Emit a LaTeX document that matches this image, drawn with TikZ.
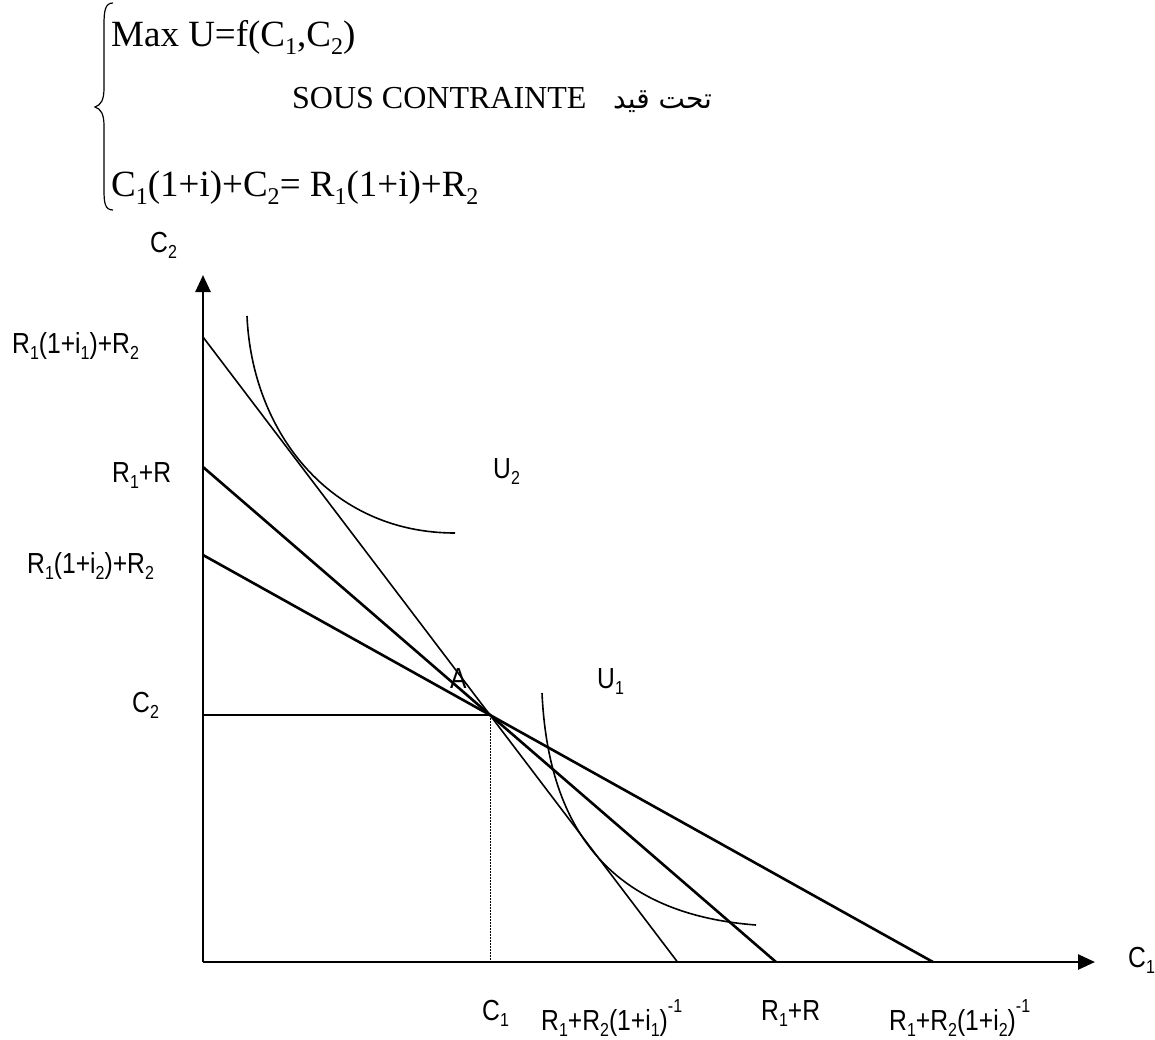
\documentclass[tikz,border=0pt]{standalone}
\usepackage{fontspec}
\usepackage{graphicx}
\setmainfont{Liberation Serif}
\newfontfamily\lab[FakeStretch=0.85]{Liberation Sans}
\newfontfamily\arabicfont[Script=Arabic]{DejaVu Sans}
\TeXXeTstate=1
\usetikzlibrary{arrows.meta}
\newcommand\lo[1]{\raisebox{-0.22em}{\scalebox{0.65}{#1}}}
\newcommand\hi[1]{\raisebox{0.6em}{\scalebox{0.65}{#1}}}
\begin{document}
\begin{tikzpicture}[x=1pt,y=-1pt,
  axisline/.style={line width=2.6pt,-{Triangle[length=17pt,width=15pt]}},
  boldline/.style={line width=2.6pt},
  thinline/.style={line width=1.6pt},
  midline/.style={line width=1.8pt},
  curveline/.style={line width=1.6pt},
  dotline/.style={line width=1pt,dash pattern=on 1.5pt off 1.5pt},
  lbl/.style={font=\lab\fontsize{29}{34}\selectfont,inner sep=0pt,anchor=base west},
  eq/.style={font=\fontsize{37}{41}\selectfont,inner sep=0pt,anchor=base west}]
\useasboundingbox (0,0) rectangle (1155,1039);
% system of equations
\draw[line width=1.2pt] (113,3) .. controls (105,3) and (104,11) .. (104,25) -- (104,88)
  .. controls (104,100) and (101,105) .. (95,107) .. controls (101,109) and (104,114) .. (104,126)
  -- (104,190) .. controls (104,203) and (105,210) .. (113,210);
\node[eq] (maxu) at (111,46) {Max U=f(C\lo{1},C\lo{2})};
\node[font=\fontsize{32}{36}\selectfont,inner sep=0pt,anchor=base west] (sous) at (292,108) {SOUS CONTRAINTE};
\node[font=\arabicfont\fontsize{28}{34}\selectfont,inner sep=0pt,anchor=base west] (ar) at (613,108) {\beginR تحت قيد\endR};
\node[eq] (contr) at (111,196) {C\lo{1}(1+i)+C\lo{2}= R\lo{1}(1+i)+R\lo{2}};
% axes
\coordinate (O) at (203,962);
\coordinate (Ytop) at (203,275);
\coordinate (Xend) at (1095,962);
\draw[axisline] (O) -- (Ytop);
\draw[axisline] (O) -- (Xend);
% budget lines
\coordinate (A) at (490,715);
\coordinate (Y1) at (203,337); \coordinate (X1) at (677.5,962);
\coordinate (Y2) at (203,467); \coordinate (X2) at (776,962);
\coordinate (Y3) at (203,555); \coordinate (X3) at (933,962);
\coordinate (YA) at (203,715); \coordinate (XA) at (490,962);
\draw[thinline] (Y1) -- (X1);
\draw[boldline] (Y2) -- (X2);
\draw[boldline] (Y3) -- (X3);
\draw[midline] (YA) -- (A);
\draw[dotline] (A) -- (XA);
% indifference curves
\coordinate (U2s) at (247,316); \coordinate (U2e) at (455,533);
\coordinate (U1s) at (542,693); \coordinate (U1e) at (756,925);
\draw[curveline] (U2s) .. controls (252,432) and (330,533) .. (U2e);
\draw[curveline] (U1s) .. controls (549,845) and (625,915) .. (U1e);
% labels
\node[lbl] (c2top) at (150,252) {C\lo{2}};
\node[lbl] (r1i1) at (12,353) {R\lo{1}(1+i\lo{1})+R\lo{2}};
\node[lbl] (r1r) at (112,482) {R\lo{1}+R};
\node[lbl] (r1i2) at (27,573) {R\lo{1}(1+i\lo{2})+R\lo{2}};
\node[lbl] (c2) at (132,712) {C\lo{2}};
\node[lbl] (lA) at (450,688) {A};
\node[lbl] (lU1) at (597,688) {U\lo{1}};
\node[lbl] (lU2) at (493,478) {U\lo{2}};
\node[lbl] (c1) at (482,1020) {C\lo{1}};
\node[lbl] (xi1) at (541,1030) {R\lo{1}+R\lo{2}(1+i\lo{1})\hi{-1}};
\node[lbl] (xr) at (761,1020) {R\lo{1}+R};
\node[lbl] (xi2) at (889,1030) {R\lo{1}+R\lo{2}(1+i\lo{2})\hi{-1}};
\node[lbl] (c1right) at (1128,967) {C\lo{1}};
\end{tikzpicture}
\end{document}
